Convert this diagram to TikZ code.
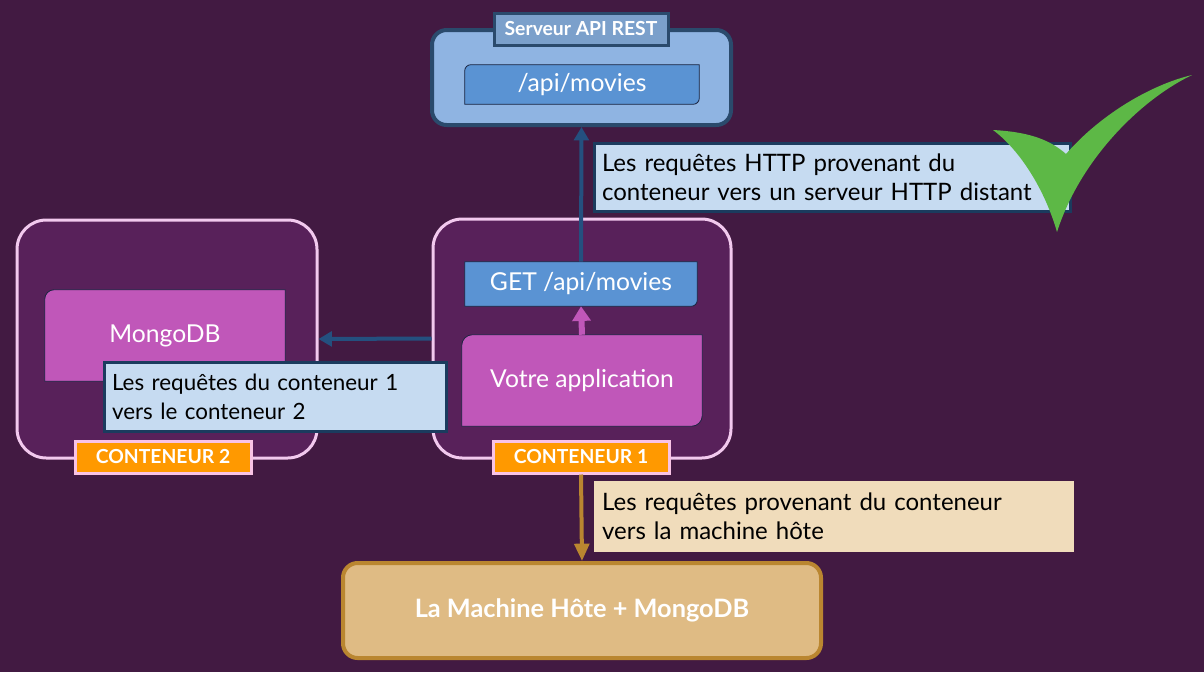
\documentclass[tikz,border=0pt]{standalone}
\usepackage{fontspec}
\setmainfont{Lato}
\usetikzlibrary{arrows.meta}
\pgfdeclarelayer{back}
\pgfdeclarelayer{mid}
\pgfsetlayers{back,mid,main}
\definecolor{bgcol}{HTML}{421A42}
\definecolor{cfill}{HTML}{58215A}
\definecolor{cborder}{HTML}{F2C9EE}
\definecolor{srvfill}{HTML}{8FB4E2}
\definecolor{srvborder}{HTML}{2A4A6C}
\definecolor{srvtag}{HTML}{7BA0CB}
\definecolor{boxblue}{HTML}{5A93D3}
\definecolor{darkline}{HTML}{1B2440}
\definecolor{callfill}{HTML}{C6DBF1}
\definecolor{callborder}{HTML}{1B3B5E}
\definecolor{magenta}{HTML}{C057B9}
\definecolor{tagorange}{HTML}{FF9900}
\definecolor{tagborder}{HTML}{F9C3E5}
\definecolor{sandfill}{HTML}{F0DCBB}
\definecolor{hostfill}{HTML}{DFBB84}
\definecolor{hostborder}{HTML}{BA8630}
\definecolor{arrowblue}{HTML}{24507F}
\definecolor{checkgreen}{HTML}{5DB846}
\begin{document}
\begin{tikzpicture}[x=0.75pt,y=-0.75pt,
  container/.style={draw=cborder,fill=cfill,line width=2.25pt,rounded corners=22pt,inner sep=0pt},
  tag/.style={fill=tagorange,draw=tagborder,line width=2.25pt,text=white,inner sep=0pt,
    minimum width=132pt,minimum height=24pt,font=\bfseries\fontsize{14.5}{16}\selectfont},
  callout/.style={fill=callfill,draw=callborder,line width=2.25pt,align=left,inner xsep=6pt,inner ysep=0pt,
    text=black,font=\fontsize{18}{21.75}\selectfont},
  innerbox/.style={inner sep=0pt,text=white,font=\fontsize{18.5}{21}\selectfont},
  boxline/.style={draw=darkline,line width=0.6pt},
  bluearrow/.style={draw=arrowblue,line width=3pt,-{Triangle[width=11pt,length=10pt]}},
]
\useasboundingbox (0,0) rectangle (1204,672);
\begin{pgfonlayer}{back}
\fill[bgcol] (0,0) rectangle (1204,672);
\node[container,minimum width=225pt,minimum height=178.5pt] (c2) at (167,339) {};
\node[container,minimum width=223.5pt,minimum height=179.25pt] (c1) at (582,338.5) {};
\node[draw=srvborder,fill=srvfill,line width=3pt,rounded corners=11pt,minimum width=224.25pt,minimum height=71.25pt] (srv) at (581.5,77.5) {};
\end{pgfonlayer}

% inner boxes (text)
\node[innerbox,minimum width=175.5pt,minimum height=29.25pt] (api) at (582,84.5) {/api/movies};
\node[innerbox,minimum width=174pt,minimum height=33pt] (get) at (581,284) {GET /api/movies};
\node[innerbox,minimum width=180pt,minimum height=68.25pt] (app) at (582,380.5) {Votre application};
\node[innerbox,minimum width=180pt,minimum height=68.25pt] (mongo) at (165,335.5) {MongoDB};

\begin{pgfonlayer}{mid}
\path[fill=boxblue,boxline] ([yshift=-4.5pt]api.north west) arc[start angle=180,end angle=90,radius=4.5pt]
  -- (api.north east) -- ([yshift=4.5pt]api.south east) arc[start angle=0,end angle=-90,radius=4.5pt]
  -- (api.south west) -- cycle;
\path[fill=boxblue,boxline] (get.north west) -- (get.north east) -- ([yshift=4.5pt]get.south east)
  arc[start angle=0,end angle=-90,radius=4.5pt] -- (get.south west) -- cycle;
\path[fill=magenta,boxline] ([yshift=-8pt]app.north west) arc[start angle=180,end angle=90,radius=8pt]
  -- (app.north east) -- ([yshift=8pt]app.south east) arc[start angle=0,end angle=-90,radius=8pt]
  -- (app.south west) -- cycle;
\path[fill=magenta,boxline] ([yshift=-7pt]mongo.north west) arc[start angle=180,end angle=90,radius=7pt]
  -- (mongo.north east) -- (mongo.south east) -- (mongo.south west) -- cycle;
\end{pgfonlayer}

% tags
\node[fill=srvtag,draw=srvborder,line width=2.25pt,text=white,inner sep=0pt,minimum width=130.5pt,minimum height=24pt,
  font=\bfseries\fontsize{14.5}{16}\selectfont] (srvtag) at (581,29) {Serveur API REST};
\node[tag] (tag2) at (163,457) {CONTENEUR 2};
\node[tag] (tag1) at (581,457) {CONTENEUR 1};

% host
\node[draw=hostborder,fill=hostfill,line width=3pt,rounded corners=11pt,minimum width=358.5pt,minimum height=71.25pt,
  text=white,font=\bfseries\fontsize{19}{22}\selectfont] (host) at (582,610.5) {La Machine Hôte + MongoDB};

% connectors
\draw[bluearrow] (get.north) -- (srv.south);
\draw[bluearrow] (c1.west) -- (c2.east);
\draw[draw=magenta,line width=4.5pt,-{Triangle[width=13.5pt,length=11pt]}] (app.north) -- (get.south);
\draw[draw=hostborder,line width=3pt,-{Triangle[width=11pt,length=13pt]}] (tag1.south) -- (host.north);

% callouts
\node[callout,text width=345pt,minimum height=51pt] (call1) at (832,177)
  {Les requêtes HTTP provenant du\\conteneur vers un serveur HTTP distant};
\node[callout,font=\fontsize{16.8}{21.75}\selectfont,text width=244.5pt,minimum height=51.75pt] (call2) at (275,396.5)
  {Les requêtes du conteneur 1\\vers le conteneur 2};
\node[callout,fill=sandfill,draw=sandfill,line width=0.5pt,text width=347pt,minimum height=52.5pt] (call3) at (833.5,516)
  {Les requêtes provenant du conteneur\\vers la machine hôte};

% check mark
\fill[checkgreen] (993,130) .. controls (1030,132) and (1050,140) .. (1066,154)
  .. controls (1100,115) and (1150,85) .. (1192,75)
  .. controls (1140,100) and (1080,160) .. (1057,232)
  .. controls (1045,190) and (1020,150) .. (993,130) -- cycle;
\end{tikzpicture}
\end{document}
